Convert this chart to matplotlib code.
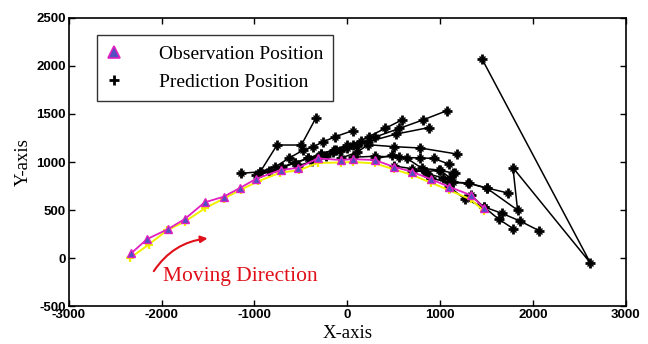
import matplotlib
matplotlib.use("Agg")
import matplotlib.pyplot as plt

plt.rcParams["axes.unicode_minus"] = False

# Observation positions (triangles, magenta line)
obs_x = [-2325, -2156, -1930, -1751, -1536, -1332, -1152, -980, -716, -527,
         -318, -70, 57, 294, 498, 694, 902, 1095, 1329, 1467]
obs_y = [52, 198, 302, 406, 580, 639, 732, 826, 917, 940,
         1038, 1021, 1030, 1021, 951, 900, 820, 743, 655, 525]

# True path (yellow, slightly below observations)
true_x = [-2340, -2140, -1940, -1750, -1530, -1330, -1150, -960, -720, -520,
          -320, -70, 60, 300, 500, 700, 900, 1100, 1330, 1470]
true_y = [0, 140, 290, 380, 520, 620, 710, 800, 890, 915,
          990, 995, 1000, 985, 925, 865, 785, 705, 610, 490]

# Prediction tracks (black, asterisk markers)
pred_x = [
    [-1141, -937, -757, -495, -337],
    [-937, -775, -632, -474, -366, -258, -129, 57],
    [-980, -840, -700, -560, -420, -280, -140, 0, 150],
    [-716, -560, -420, -280, -120, 60, 229, 409, 589],
    [-527, -380, -230, -80, 100, 300, 560, 820, 1073],
    [-318, -150, 0, 226, 520, 875],
    [-70, 100, 226, 500, 786, 1181],
    [57, 300, 560, 786, 929, 1091],
    [294, 481, 643, 804, 983, 1141],
    [498, 700, 860, 1034, 1141, 1302, 1507, 1733],
    [694, 850, 1000, 1109, 1163],
    [902, 1095, 1313, 1504, 1833, 1783, 2616, 1450],
    [1095, 1270, 1467, 1665, 1862, 2067],
    [1329, 1467, 1629, 1787],
]
pred_y = [
    [882, 899, 1177, 1177, 1461],
    [899, 951, 1038, 1125, 1159, 1211, 1264, 1326],
    [860, 905, 950, 995, 1040, 1085, 1130, 1175, 1220],
    [940, 990, 1040, 1085, 1130, 1180, 1264, 1351, 1438],
    [960, 1010, 1060, 1110, 1170, 1260, 1350, 1440, 1535],
    [1050, 1100, 1150, 1211, 1290, 1358],
    [1040, 1100, 1180, 1160, 1146, 1083],
    [1050, 1060, 1050, 1042, 1038, 979],
    [1030, 1073, 1038, 934, 917, 885],
    [960, 930, 880, 833, 792, 781, 729, 677],
    [910, 900, 917, 830, 882],
    [830, 790, 778, 726, 500, 941, -49, 2073],
    [743, 611, 535, 466, 385, 284],
    [655, 535, 406, 306],
]

fig = plt.figure(figsize=(6.48, 3.44), dpi=100)
ax = fig.add_axes([0.106, 0.11, 0.86, 0.838])

serif = ["Liberation Serif", "DejaVu Serif"]

for px, py in zip(pred_x, pred_y):
    ax.plot(px, py, color="black", lw=1.1, zorder=2)
    ax.plot(px, py, ls="none", marker="+", ms=7.5, mew=2.0, color="black", zorder=3)
    ax.plot(px, py, ls="none", marker="x", ms=4, mew=1.0, color="black", zorder=3)

ax.plot(true_x, true_y, color="#f0f000", lw=1.4, marker="+", ms=6, mew=1.6,
        zorder=4)
ax.plot(obs_x, obs_y, color="#e020c0", lw=1.3, marker="^", ms=6,
        mfc="#5050c0", mec="#e020c0", mew=1.0, zorder=5)

# legend proxies
h_obs, = ax.plot([], [], color="none", marker="^", ms=8, mfc="#5050c0",
                 mec="#e020c0", mew=1.2)
h_pred, = ax.plot([], [], color="none", marker="+", ms=7, mew=2.0, mec="black")
leg = ax.legend([h_obs, h_pred], ["Observation Position", "Prediction Position"],
                loc="upper left", bbox_to_anchor=(0.05, 0.94),
                prop={"family": serif, "size": 14}, frameon=True,
                fancybox=False, edgecolor="black", handlelength=0.8,
                handletextpad=1.9, labelspacing=0.55, borderpad=0.5,
                borderaxespad=0)
leg.get_frame().set_linewidth(1.0)

ax.set_xlim(-3000, 3000)
ax.set_ylim(-500, 2500)
ax.set_xticks(range(-3000, 3001, 1000))
ax.set_yticks(range(-500, 2501, 500))
ax.tick_params(direction="in", top=True, right=True, length=4, width=1,
               labelsize=9.5, pad=2)
for lab in ax.get_xticklabels() + ax.get_yticklabels():
    lab.set_fontweight("bold")
    lab.set_family(["Liberation Sans", "DejaVu Sans"])
for s in ax.spines.values():
    s.set_linewidth(1.2)

ax.set_xlabel("X-axis", family=serif, fontsize=13.5, labelpad=3)
ax.set_ylabel("Y-axis", family=serif, fontsize=13.5, labelpad=3)

ax.text(-1157, -190, "Moving Direction", color="#e0101a", family=serif,
        fontsize=15.5, ha="center", va="center")
ax.annotate("", xy=(-1475, 208), xytext=(-2100, -160),
            arrowprops=dict(arrowstyle="-|>", color="#e0101a", lw=1.5,
                            connectionstyle="arc3,rad=-0.25", mutation_scale=10))

fig.savefig("out.png", dpi=100)
